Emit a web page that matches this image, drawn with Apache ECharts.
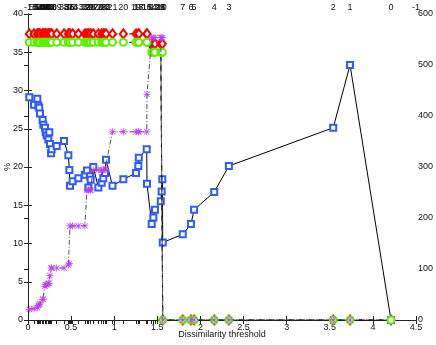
<!DOCTYPE html>
<html>
<head>
<meta charset="utf-8">
<script src="https://cdn.jsdelivr.net/npm/echarts@6/dist/echarts.min.js"></script>
<style>
html, body { margin: 0; padding: 0; background: #fff; }
#chart { width: 436px; height: 345px; }
</style>
</head>
<body>
<div id="chart"></div>
<script>
// dissimilarity thresholds (shared by every series)
const thresholds = [0.015, 0.07, 0.108, 0.12, 0.13, 0.139, 0.17, 0.178, 0.197, 0.205,
  0.217, 0.236, 0.247, 0.255, 0.267, 0.275, 0.333, 0.418, 0.468, 0.48,
  0.487, 0.518, 0.584, 0.66, 0.684, 0.70, 0.72, 0.727, 0.757, 0.816,
  0.855, 0.873, 0.893, 0.905, 0.98, 1.106, 1.253, 1.28, 1.285, 1.377,
  1.38, 1.435, 1.454, 1.473, 1.54, 1.55, 1.558, 1.563, 1.795, 1.89,
  1.926, 2.16, 2.33, 3.54, 3.735, 4.21]
// number of clusters at each threshold (top axis)
const clusterCounts = [55, 54, 53, 52, 51, 50, 49, 48, 47, 46,
  45, 44, 43, 42, 41, 40, 39, 38, 37, 36,
  35, 34, 33, 32, 31, 30, 29, 28, 27, 26,
  25, 24, 23, 22, 21, 20, 19, 18, 17, 16,
  15, 14, 13, 12, 11, 10, 9, 8, 7, 6,
  5, 4, 3, 2, 1, 0]
// blue squares, right axis
const blueValues = [437, 422, 434, 420, 416, 405, 392, 383, 377, 368,
  362, 354, 368, 345, 327, 335, 341, 351, 323, 294,
  263, 272, 278, 285, 293, 260, 282, 275, 300, 260,
  269, 278, 288, 314, 263, 276, 288, 302, 318, 335,
  267, 188, 201, 216, 233, 252, 276, 152, 168, 188,
  216, 251, 302, 377, 500, 0]
// left axis, %
const redPct = [37.4, 37.4, 37.4, 37.4, 37.4, 37.4, 37.4, 37.4, 37.4, 37.4,
  37.4, 37.4, 37.4, 37.4, 37.4, 37.4, 37.4, 37.4, 37.4, 37.4,
  37.4, 37.4, 37.4, 37.4, 37.4, 37.4, 37.4, 37.4, 37.4, 37.4,
  37.4, 37.4, 37.4, 37.4, 37.4, 37.4, 37.4, 37.4, 37.4, 37.4,
  37.4, 36.1, 36.1, 36.1, 36.1, 36.1, 36.1, 0, 0, 0,
  0, 0, 0, 0, 0, 0]
const greenPct = [36.3, 36.3, 36.3, 36.3, 36.3, 36.3, 36.3, 36.3, 36.3, 36.3,
  36.3, 36.3, 36.3, 36.3, 36.3, 36.3, 36.3, 36.3, 36.3, 36.3,
  36.3, 36.3, 36.3, 36.3, 36.3, 36.3, 36.3, 36.3, 36.3, 36.3,
  36.3, 36.3, 36.3, 36.3, 36.3, 36.3, 36.3, 36.3, 36.3, 36.3,
  36.3, 35.0, 35.0, 35.0, 35.0, 35.0, 35.0, 0, 0, 0,
  0, 0, 0, 0, 0, 0]
const magentaPct = [1.4, 1.5, 1.6, 1.9, 2.0, 2.1, 2.7, 2.7, 4.4, 4.6,
  4.6, 4.8, 4.8, 5.8, 6.8, 6.8, 6.8, 6.8, 7.2, 7.4,
  12.3, 12.3, 12.3, 12.3, 17.0, 17.0, 17.0, 17.0, 19.6, 19.6,
  19.6, 19.6, 19.7, 19.7, 24.6, 24.6, 24.6, 24.6, 24.6, 24.6,
  29.5, 36.9, 36.9, 36.9, 36.9, 36.9, 36.9, 0, 0, 0,
  0, 0, 0, 0, 0, null]
const xTicks = [0, 0.5, 1, 1.5, 2, 2.5, 3, 3.5, 4, 4.5]
const rightLabels = [0, 100, 200, 300, 400, 500, 600]

const topX = [0].concat(thresholds, [4.5])
const topLabels = ['-1'].concat(clusterCounts.map(String), ['-1'])

const asterisk = 'path://M4.5 0h1v10h-1Z M0 4.5h10v1h-10Z M0.7 1.4L1.4 0.7L9.3 8.6L8.6 9.3Z M8.6 0.7L9.3 1.4L1.4 9.3L0.7 8.6Z'
const dashDot = [5, 2, 1, 2]
const font = 'Liberation Sans'

function pairs (ys) {
  return thresholds.map((x, i) => [x, ys[i]])
}

const chart = echarts.init(document.getElementById('chart'), null, { renderer: 'canvas' })
const axisLine = { show: true, lineStyle: { color: '#222', width: 1 } }
const label = { color: '#111', fontSize: 9, fontFamily: font }

chart.setOption({
  animation: false,
  grid: { left: 28, right: 20, top: 14, bottom: 25, containLabel: false, outerBoundsMode: 'none' },
  xAxis: [{
    type: 'value',
    min: 0,
    max: 4.5,
    interval: 0.5,
    position: 'bottom',
    name: 'Dissimilarity threshold',
    nameLocation: 'middle',
    nameGap: 10,
    nameMoveOverlap: false,
    nameTextStyle: { color: '#111', fontSize: 9, fontFamily: font, verticalAlign: 'top' },
    axisLine: axisLine,
    axisTick: { inside: true, length: 4, lineStyle: { color: '#222' } },
    axisLabel: Object.assign({ margin: 3, formatter: v => String(v) }, label),
    splitLine: { show: false }
  }, {
    type: 'value',
    min: 0,
    max: 4.5,
    position: 'top',
    axisLine: axisLine,
    axisTick: {
      inside: true,
      length: 4,
      customValues: topX.concat(xTicks.slice(1, -1)),
      lineStyle: { color: '#222' }
    },
    axisLabel: Object.assign({
      margin: 2,
      customValues: topX,
      hideOverlap: false,
      showMinLabel: true,
      showMaxLabel: true,
      formatter: v => {
        const i = topX.findIndex(x => Math.abs(x - v) < 1e-6)
        return i < 0 ? '' : topLabels[i]
      }
    }, label),
    splitLine: { show: false }
  }],
  yAxis: [{
    type: 'value',
    min: 0,
    max: 40,
    interval: 5,
    name: '%',
    nameLocation: 'middle',
    nameRotate: 90,
    nameGap: 16,
    nameMoveOverlap: false,
    nameTextStyle: { color: '#111', fontSize: 9, fontFamily: font },
    axisLine: axisLine,
    axisTick: { inside: true, length: 4, lineStyle: { color: '#222' } },
    axisLabel: Object.assign({ margin: 5 }, label),
    splitLine: { show: false }
  }, {
    type: 'value',
    min: 0,
    max: 600,
    position: 'right',
    axisLine: axisLine,
    axisTick: {
      inside: true,
      length: 4,
      customValues: [0, 75, 100, 150, 200, 225, 300, 375, 400, 450, 500, 525, 600],
      lineStyle: { color: '#222' }
    },
    axisLabel: Object.assign({ margin: 2, customValues: rightLabels, showMinLabel: true, showMaxLabel: true }, label),
    splitLine: { show: false }
  }],
  series: [{
    name: 'elements',
    type: 'line',
    xAxisIndex: 0,
    yAxisIndex: 1,
    data: pairs(blueValues),
    symbol: 'emptyRect',
    symbolSize: 6,
    itemStyle: { color: '#2d5bff', borderWidth: 1 },
    lineStyle: { color: '#000', width: 1 },
    z: 2
  }, {
    name: 'red',
    type: 'line',
    yAxisIndex: 0,
    data: pairs(redPct),
    symbol: 'emptyDiamond',
    symbolSize: [7, 9],
    itemStyle: { color: '#ff0000', borderWidth: 1.2 },
    lineStyle: { color: '#000', width: 1, type: dashDot },
    z: 3
  }, {
    name: 'green',
    type: 'line',
    yAxisIndex: 0,
    data: pairs(greenPct),
    symbol: 'emptyCircle',
    symbolSize: 7,
    itemStyle: { color: '#5cf000', borderWidth: 1.2 },
    lineStyle: { color: '#000', width: 1, type: dashDot },
    z: 4
  }, {
    name: 'magenta',
    type: 'line',
    yAxisIndex: 0,
    data: pairs(magentaPct),
    symbol: asterisk,
    symbolSize: 7,
    itemStyle: { color: '#c03cf2' },
    lineStyle: { color: '#555', width: 1, type: dashDot },
    z: 5
  }]
})
</script>
</body>
</html>
